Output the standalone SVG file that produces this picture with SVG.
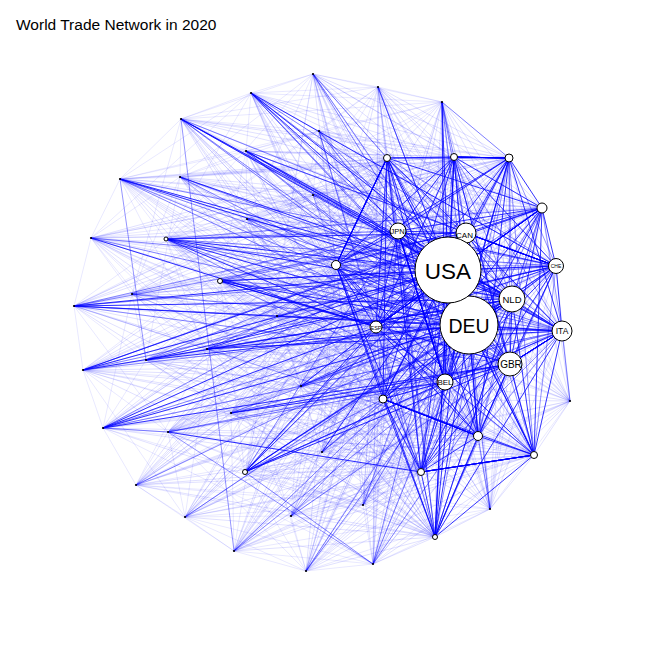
<svg xmlns="http://www.w3.org/2000/svg" width="645" height="645" viewBox="0 0 645 645">
<style>
.f{fill:none;stroke:#0000ff;stroke-opacity:0.12;stroke-width:1;stroke-linejoin:bevel}
.g{fill:none;stroke:#0000ff;stroke-opacity:0.09;stroke-width:1;stroke-linejoin:bevel}
.m{fill:none;stroke:#0000ff;stroke-opacity:0.42;stroke-width:1;stroke-linejoin:bevel}
.s{fill:none;stroke:#0000ff;stroke-opacity:0.8;stroke-width:1;stroke-linejoin:bevel}
.n circle{fill:#fff;stroke:#000;stroke-width:1}
.d circle{fill:#000}
text{font-family:"Liberation Sans",Arial,sans-serif;text-anchor:middle;fill:#000}
</style>
<rect width="645" height="645" fill="#fff"/>
<text x="16" y="29.5" style="text-anchor:start;font-size:15.5px">World Trade Network in 2020</text>
<g id="edges">
<g id="faint-fans">
<polyline class="f" points="448,270 245,472 469,325 512,299 245,472 510,364 562,331 245,472 556,266 466,233 245,472 398,231 445,382 245,472 376,327 542,208 245,472 509,158 454,157 245,472 387,158 336,265 245,472 383,399 478,436 245,472 534,455 421,472 245,472 435,537"/>
<polyline class="f" points="448,270 220,281 469,325 512,299 220,281 510,364 562,331 220,281 556,266 466,233 220,281 398,231 445,382 220,281 376,327 542,208 220,281 509,158 454,157 220,281 387,158 336,265 220,281 383,399 478,436 220,281 534,455 421,472 220,281 435,537"/>
<polyline class="f" points="448,270 166,239 469,325 512,299 166,239 510,364 562,331 166,239 556,266 466,233 166,239 398,231 445,382 166,239 376,327 542,208 166,239 509,158 454,157 166,239 387,158 336,265 166,239 383,399 478,436 166,239 534,455 421,472 166,239 435,537"/>
<polyline class="f" points="448,270 313,74 469,325 512,299 313,74 510,364 562,331 313,74 556,266 466,233 313,74 398,231 445,382 313,74 376,327 542,208 313,74 509,158 454,157 313,74 387,158 336,265 313,74 383,399 478,436 313,74 534,455 421,472 313,74 435,537"/>
<polyline class="f" points="448,270 378,87 469,325 512,299 378,87 510,364 562,331 378,87 556,266 466,233 378,87 398,231 445,382 378,87 376,327 542,208 378,87 509,158 454,157 378,87 387,158 336,265 378,87 383,399 478,436 378,87 534,455 421,472 378,87 435,537"/>
<polyline class="f" points="448,270 442,102 469,325 512,299 442,102 510,364 562,331 442,102 556,266 466,233 442,102 398,231 445,382 442,102 376,327 542,208 442,102 509,158 454,157 442,102 387,158 336,265 442,102 383,399 478,436 442,102 534,455 421,472 442,102 435,537"/>
<polyline class="f" points="448,270 251,93 469,325 512,299 251,93 510,364 562,331 251,93 556,266 466,233 251,93 398,231 445,382 251,93 376,327 542,208 251,93 509,158 454,157 251,93 387,158 336,265 251,93 383,399 478,436 251,93 534,455 421,472 251,93 435,537"/>
<polyline class="f" points="448,270 181,119 469,325 512,299 181,119 510,364 562,331 181,119 556,266 466,233 181,119 398,231 445,382 181,119 376,327 542,208 181,119 509,158 454,157 181,119 387,158 336,265 181,119 383,399 478,436 181,119 534,455 421,472 181,119 435,537"/>
<polyline class="f" points="448,270 319,131 469,325 512,299 319,131 510,364 562,331 319,131 556,266 466,233 319,131 398,231 445,382 319,131 376,327 542,208 319,131 509,158 454,157 319,131 387,158 336,265 319,131 383,399 478,436 319,131 534,455 421,472 319,131 435,537"/>
<polyline class="f" points="448,270 246,151 469,325 512,299 246,151 510,364 562,331 246,151 556,266 466,233 246,151 398,231 445,382 246,151 376,327 542,208 246,151 509,158 454,157 246,151 387,158 336,265 246,151 383,399 478,436 246,151 534,455 421,472 246,151 435,537"/>
<polyline class="f" points="448,270 120,179 469,325 512,299 120,179 510,364 562,331 120,179 556,266 466,233 120,179 398,231 445,382 120,179 376,327 542,208 120,179 509,158 454,157 120,179 387,158 336,265 120,179 383,399 478,436 120,179 534,455 421,472 120,179 435,537"/>
<polyline class="f" points="448,270 180,177 469,325 512,299 180,177 510,364 562,331 180,177 556,266 466,233 180,177 398,231 445,382 180,177 376,327 542,208 180,177 509,158 454,157 180,177 387,158 336,265 180,177 383,399 478,436 180,177 534,455 421,472 180,177 435,537"/>
<polyline class="f" points="448,270 313,195 469,325 512,299 313,195 510,364 562,331 313,195 556,266 466,233 313,195 398,231 445,382 313,195 376,327 542,208 313,195 509,158 454,157 313,195 387,158 336,265 313,195 383,399 478,436 313,195 534,455 421,472 313,195 435,537"/>
<polyline class="f" points="448,270 247,219 469,325 512,299 247,219 510,364 562,331 247,219 556,266 466,233 247,219 398,231 445,382 247,219 376,327 542,208 247,219 509,158 454,157 247,219 387,158 336,265 247,219 383,399 478,436 247,219 534,455 421,472 247,219 435,537"/>
<polyline class="f" points="448,270 91,238 469,325 512,299 91,238 510,364 562,331 91,238 556,266 466,233 91,238 398,231 445,382 91,238 376,327 542,208 91,238 509,158 454,157 91,238 387,158 336,265 91,238 383,399 478,436 91,238 534,455 421,472 91,238 435,537"/>
<polyline class="f" points="448,270 132,294 469,325 512,299 132,294 510,364 562,331 132,294 556,266 466,233 132,294 398,231 445,382 132,294 376,327 542,208 132,294 509,158 454,157 132,294 387,158 336,265 132,294 383,399 478,436 132,294 534,455 421,472 132,294 435,537"/>
<polyline class="f" points="448,270 74,306 469,325 512,299 74,306 510,364 562,331 74,306 556,266 466,233 74,306 398,231 445,382 74,306 376,327 542,208 74,306 509,158 454,157 74,306 387,158 336,265 74,306 383,399 478,436 74,306 534,455 421,472 74,306 435,537"/>
<polyline class="f" points="448,270 277,316 469,325 512,299 277,316 510,364 562,331 277,316 556,266 466,233 277,316 398,231 445,382 277,316 376,327 542,208 277,316 509,158 454,157 277,316 387,158 336,265 277,316 383,399 478,436 277,316 534,455 421,472 277,316 435,537"/>
<polyline class="f" points="448,270 207,349 469,325 512,299 207,349 510,364 562,331 207,349 556,266 466,233 207,349 398,231 445,382 207,349 376,327 542,208 207,349 509,158 454,157 207,349 387,158 336,265 207,349 383,399 478,436 207,349 534,455 421,472 207,349 435,537"/>
<polyline class="f" points="448,270 146,360 469,325 512,299 146,360 510,364 562,331 146,360 556,266 466,233 146,360 398,231 445,382 146,360 376,327 542,208 146,360 509,158 454,157 146,360 387,158 336,265 146,360 383,399 478,436 146,360 534,455 421,472 146,360 435,537"/>
<polyline class="f" points="448,270 83,370 469,325 512,299 83,370 510,364 562,331 83,370 556,266 466,233 83,370 398,231 445,382 83,370 376,327 542,208 83,370 509,158 454,157 83,370 387,158 336,265 83,370 383,399 478,436 83,370 534,455 421,472 83,370 435,537"/>
<polyline class="f" points="448,270 301,386 469,325 512,299 301,386 510,364 562,331 301,386 556,266 466,233 301,386 398,231 445,382 301,386 376,327 542,208 301,386 509,158 454,157 301,386 387,158 336,265 301,386 383,399 478,436 301,386 534,455 421,472 301,386 435,537"/>
<polyline class="f" points="448,270 231,413 469,325 512,299 231,413 510,364 562,331 231,413 556,266 466,233 231,413 398,231 445,382 231,413 376,327 542,208 231,413 509,158 454,157 231,413 387,158 336,265 231,413 383,399 478,436 231,413 534,455 421,472 231,413 435,537"/>
<polyline class="f" points="448,270 103,428 469,325 512,299 103,428 510,364 562,331 103,428 556,266 466,233 103,428 398,231 445,382 103,428 376,327 542,208 103,428 509,158 454,157 103,428 387,158 336,265 103,428 383,399 478,436 103,428 534,455 421,472 103,428 435,537"/>
<polyline class="f" points="448,270 168,432 469,325 512,299 168,432 510,364 562,331 168,432 556,266 466,233 168,432 398,231 445,382 168,432 376,327 542,208 168,432 509,158 454,157 168,432 387,158 336,265 168,432 383,399 478,436 168,432 534,455 421,472 168,432 435,537"/>
<polyline class="f" points="448,270 322,452 469,325 512,299 322,452 510,364 562,331 322,452 556,266 466,233 322,452 398,231 445,382 322,452 376,327 542,208 322,452 509,158 454,157 322,452 387,158 336,265 322,452 383,399 478,436 322,452 534,455 421,472 322,452 435,537"/>
<polyline class="f" points="448,270 136,485 469,325 512,299 136,485 510,364 562,331 136,485 556,266 466,233 136,485 398,231 445,382 136,485 376,327 542,208 136,485 509,158 454,157 136,485 387,158 336,265 136,485 383,399 478,436 136,485 534,455 421,472 136,485 435,537"/>
<polyline class="f" points="448,270 363,505 469,325 512,299 363,505 510,364 562,331 363,505 556,266 466,233 363,505 398,231 445,382 363,505 376,327 542,208 363,505 509,158 454,157 363,505 387,158 336,265 363,505 383,399 478,436 363,505 534,455 421,472 363,505 435,537"/>
<polyline class="f" points="448,270 185,517 469,325 512,299 185,517 510,364 562,331 185,517 556,266 466,233 185,517 398,231 445,382 185,517 376,327 542,208 185,517 509,158 454,157 185,517 387,158 336,265 185,517 383,399 478,436 185,517 534,455 421,472 185,517 435,537"/>
<polyline class="f" points="448,270 291,516 469,325 512,299 291,516 510,364 562,331 291,516 556,266 466,233 291,516 398,231 445,382 291,516 376,327 542,208 291,516 509,158 454,157 291,516 387,158 336,265 291,516 383,399 478,436 291,516 534,455 421,472 291,516 435,537"/>
<polyline class="f" points="448,270 234,551 469,325 512,299 234,551 510,364 562,331 234,551 556,266 466,233 234,551 398,231 445,382 234,551 376,327 542,208 234,551 509,158 454,157 234,551 387,158 336,265 234,551 383,399 478,436 234,551 534,455 421,472 234,551 435,537"/>
<polyline class="f" points="448,270 373,564 469,325 512,299 373,564 510,364 562,331 373,564 556,266 466,233 373,564 398,231 445,382 373,564 376,327 542,208 373,564 509,158 454,157 373,564 387,158 336,265 373,564 383,399 478,436 373,564 534,455 421,472 373,564 435,537"/>
<polyline class="f" points="448,270 306,571 469,325 512,299 306,571 510,364 562,331 306,571 556,266 466,233 306,571 398,231 445,382 306,571 376,327 542,208 306,571 509,158 454,157 306,571 387,158 336,265 306,571 383,399 478,436 306,571 534,455 421,472 306,571 435,537"/>
<polyline class="f" points="448,270 570,401 469,325 512,299 570,401 510,364 562,331 570,401 556,266 466,233 570,401 398,231 445,382 570,401 376,327 542,208 570,401 509,158 454,157 570,401 387,158 336,265 570,401 383,399 478,436 570,401 534,455 421,472 570,401 435,537"/>
<polyline class="f" points="448,270 490,509 469,325 512,299 490,509 510,364 562,331 490,509 556,266 466,233 490,509 398,231 445,382 490,509 376,327 542,208 490,509 509,158 454,157 490,509 387,158 336,265 490,509 383,399 478,436 490,509 534,455 421,472 490,509 435,537"/>
</g>
<g id="faint-outer">
<polygon class="g" points="245,472 220,281 166,239 313,74 378,87 442,102 251,93 181,119 319,131 246,151 120,179 180,177 313,195 247,219 91,238 132,294 74,306 277,316 207,349 146,360 83,370 301,386 231,413 103,428 168,432 322,452 136,485 363,505 185,517 291,516 234,551 373,564 306,571 570,401 490,509"/>
<polygon class="g" points="245,472 166,239 378,87 251,93 319,131 120,179 313,195 91,238 74,306 207,349 83,370 231,413 168,432 136,485 185,517 234,551 306,571 490,509 220,281 313,74 442,102 181,119 246,151 180,177 247,219 132,294 277,316 146,360 301,386 103,428 322,452 363,505 291,516 373,564 570,401"/>
<polygon class="g" points="245,472 313,74 251,93 246,151 313,195 132,294 207,349 301,386 168,432 363,505 234,551 570,401 220,281 378,87 181,119 120,179 247,219 74,306 146,360 231,413 322,452 185,517 373,564 490,509 166,239 442,102 319,131 180,177 91,238 277,316 83,370 103,428 136,485 291,516 306,571"/>
<polygon class="g" points="245,472 378,87 319,131 313,195 74,306 83,370 168,432 185,517 306,571 220,281 442,102 246,151 247,219 277,316 301,386 322,452 291,516 570,401 166,239 251,93 120,179 91,238 207,349 231,413 136,485 234,551 490,509 313,74 181,119 180,177 132,294 146,360 103,428 363,505 373,564"/>
<polygon class="g" points="245,472 319,131 74,306 168,432 306,571 442,102 247,219 301,386 291,516 166,239 120,179 207,349 136,485 490,509 181,119 132,294 103,428 373,564 378,87 313,195 83,370 185,517 220,281 246,151 277,316 322,452 570,401 251,93 91,238 231,413 234,551 313,74 180,177 146,360 363,505"/>
</g>
<g id="cluster-medium">
<polygon class="m" points="448,270 466,233 454,157 421,472 562,331 542,208 478,436 512,299 445,382 336,265"/>
<polygon class="m" points="469,325 398,231 387,158 435,537 556,266 509,158 534,455 510,364 376,327 383,399"/>
<polygon class="m" points="448,270 445,382 478,436 562,331 454,157"/>
<polygon class="m" points="469,325 376,327 534,455 556,266 387,158"/>
<polygon class="m" points="512,299 542,208 421,472 466,233 336,265"/>
<polygon class="m" points="510,364 509,158 435,537 398,231 383,399"/>
<polygon class="m" points="448,270 376,327 421,472 398,231 478,436 556,266 336,265 510,364 454,157 469,325 542,208 435,537 445,382 534,455 466,233 383,399 562,331 387,158 512,299 509,158"/>
<path class="m" d="M448 270 542 208M469 325 509 158M512 299 454 157M510 364 387 158M562 331 336 265M556 266 383 399M466 233 478 436M398 231 534 455M445 382 421 472M376 327 435 537"/>
</g>
<g id="outer-medium">
<path class="m" d="M245 472 398 231M245 472 556 266M245 472 383 399M245 472 373 564M245 472 512 299M245 472 562 331M245 472 466 233"/>
<path class="m" d="M220 281 466 233M220 281 398 231M220 281 445 382M220 281 512 299M220 281 562 331M220 281 556 266"/>
<path class="m" d="M166 239 445 382M166 239 542 208M166 239 510 364M166 239 562 331M166 239 556 266M166 239 398 231"/>
<path class="m" d="M313 74 387 158M313 74 448 270M313 74 469 325"/>
<path class="m" d="M378 87 448 270M378 87 469 325"/>
<path class="m" d="M442 102 469 325M442 102 454 157M442 102 509 158M442 102 466 233"/>
<path class="m" d="M251 93 398 231M251 93 510 364M251 93 469 325M251 93 466 233M251 93 562 331"/>
<path class="m" d="M181 119 469 325M181 119 466 233M181 119 510 364M181 119 562 331M181 119 234 551"/>
<path class="m" d="M319 131 448 270M319 131 469 325M319 131 376 327"/>
<path class="m" d="M246 151 510 364M246 151 556 266M246 151 466 233M246 151 562 331M246 151 469 325"/>
<path class="m" d="M120 179 469 325M120 179 562 331M120 179 510 364M120 179 146 360M120 179 556 266"/>
<path class="m" d="M180 177 512 299M180 177 469 325"/>
<path class="m" d="M313 195 448 270"/>
<path class="m" d="M247 219 448 270M247 219 469 325"/>
<path class="m" d="M91 238 448 270M91 238 469 325"/>
<path class="m" d="M132 294 469 325"/>
<path class="m" d="M74 306 510 364M74 306 466 233M74 306 398 231M74 306 469 325M74 306 556 266"/>
<path class="m" d="M277 316 448 270M277 316 469 325"/>
<path class="m" d="M207 349 512 299M207 349 556 266M207 349 466 233"/>
<path class="m" d="M146 360 448 270M146 360 512 299M146 360 466 233"/>
<path class="m" d="M83 370 469 325M83 370 556 266M83 370 466 233"/>
<path class="m" d="M301 386 469 325M301 386 556 266"/>
<path class="m" d="M231 413 469 325M231 413 562 331"/>
<path class="m" d="M103 428 168 432M103 428 512 299M103 428 562 331M103 428 466 233"/>
<path class="m" d="M168 432 373 564M168 432 445 382M168 432 510 364"/>
<path class="m" d="M322 452 469 325M322 452 512 299"/>
<path class="m" d="M136 485 469 325"/>
<path class="m" d="M363 505 469 325M363 505 448 270"/>
<path class="m" d="M185 517 469 325"/>
<path class="m" d="M291 516 469 325M291 516 510 364"/>
<path class="m" d="M234 551 469 325M234 551 445 382"/>
<path class="m" d="M373 564 469 325M373 564 448 270M373 564 510 364"/>
<path class="m" d="M306 571 445 382M306 571 469 325"/>
<path class="m" d="M570 401 562 331"/>
<path class="m" d="M490 509 478 436M490 509 469 325"/>
</g>
<g id="cluster-strong">
<polygon class="s" points="448,270 469,325 512,299 510,364 562,331 556,266 466,233 398,231 445,382 376,327 542,208 509,158 454,157 387,158 336,265 383,399 478,436 534,455 421,472 435,537"/>
<polygon class="s" points="448,270 512,299 562,331 466,233 445,382 542,208 454,157 336,265 478,436 421,472"/>
<polygon class="s" points="469,325 510,364 556,266 398,231 376,327 509,158 387,158 383,399 534,455 435,537"/>
<polygon class="s" points="448,270 510,364 466,233 376,327 454,157 383,399 421,472 469,325 562,331 398,231 542,208 387,158 478,436 435,537 512,299 556,266 445,382 509,158 336,265 534,455"/>
<polygon class="s" points="448,270 562,331 445,382 454,157 478,436"/>
<polygon class="s" points="469,325 556,266 376,327 387,158 534,455"/>
<polygon class="s" points="512,299 466,233 542,208 336,265 421,472"/>
<polygon class="s" points="510,364 398,231 509,158 383,399 435,537"/>
<polygon class="s" points="448,270 556,266 542,208 383,399"/>
<polygon class="s" points="469,325 466,233 509,158 478,436"/>
<polygon class="s" points="512,299 398,231 454,157 534,455"/>
<polygon class="s" points="510,364 445,382 387,158 421,472"/>
<polygon class="s" points="562,331 376,327 336,265 435,537"/>
<polygon class="s" points="448,270 398,231 336,265 469,325 445,382 383,399 512,299 376,327 478,436 510,364 542,208 534,455 562,331 509,158 421,472 556,266 454,157 435,537 466,233 387,158"/>
</g>
<g id="outer-strong">
<path class="s" d="M245 472 448 270M245 472 469 325M245 472 510 364M245 472 445 382M245 472 376 327"/>
<path class="s" d="M220 281 448 270M220 281 469 325M220 281 510 364M220 281 376 327"/>
<path class="s" d="M166 239 448 270M166 239 469 325M166 239 512 299M166 239 466 233M166 239 376 327"/>
<path class="s" d="M442 102 448 270M442 102 445 382"/>
<path class="s" d="M251 93 448 270M251 93 512 299M251 93 556 266"/>
<path class="s" d="M181 119 448 270M181 119 512 299"/>
<path class="s" d="M246 151 448 270M246 151 512 299"/>
<path class="s" d="M120 179 448 270M120 179 512 299"/>
<path class="s" d="M180 177 448 270"/>
<path class="s" d="M91 238 376 327"/>
<path class="s" d="M74 306 448 270M74 306 512 299M74 306 562 331"/>
<path class="s" d="M207 349 448 270M207 349 469 325M207 349 562 331"/>
<path class="s" d="M146 360 469 325M146 360 556 266"/>
<path class="s" d="M83 370 448 270M83 370 512 299M83 370 542 208"/>
<path class="s" d="M301 386 448 270M301 386 512 299"/>
<path class="s" d="M231 413 510 364M231 413 445 382"/>
<path class="s" d="M103 428 448 270M103 428 469 325M103 428 510 364M103 428 376 327"/>
<path class="s" d="M168 432 421 472"/>
<path class="s" d="M322 452 448 270"/>
</g>
</g>
<g id="nodes">
<g class="d">
<circle id="n24" cx="313" cy="74" r="1.1"/><circle id="n25" cx="378" cy="87" r="1.1"/><circle id="n26" cx="442" cy="102" r="1.1"/>
<circle id="n27" cx="251" cy="93" r="1.1"/><circle id="n28" cx="181" cy="119" r="1.1"/><circle id="n29" cx="319" cy="131" r="1.1"/>
<circle id="n30" cx="246" cy="151" r="1.1"/><circle id="n31" cx="120" cy="179" r="1.1"/><circle id="n32" cx="180" cy="177" r="1.1"/>
<circle id="n33" cx="313" cy="195" r="1.1"/><circle id="n34" cx="247" cy="219" r="1.1"/><circle id="n35" cx="91" cy="238" r="1.1"/>
<circle id="n36" cx="132" cy="294" r="1.1"/><circle id="n37" cx="74" cy="306" r="1.1"/><circle id="n38" cx="277" cy="316" r="1.1"/>
<circle id="n39" cx="207" cy="349" r="1.1"/><circle id="n40" cx="146" cy="360" r="1.1"/><circle id="n41" cx="83" cy="370" r="1.1"/>
<circle id="n42" cx="301" cy="386" r="1.1"/><circle id="n43" cx="231" cy="413" r="1.1"/><circle id="n44" cx="103" cy="428" r="1.1"/>
<circle id="n45" cx="168" cy="432" r="1.1"/><circle id="n46" cx="322" cy="452" r="1.1"/><circle id="n47" cx="136" cy="485" r="1.1"/>
<circle id="n48" cx="363" cy="505" r="1.1"/><circle id="n49" cx="185" cy="517" r="1.1"/><circle id="n50" cx="291" cy="516" r="1.1"/>
<circle id="n51" cx="234" cy="551" r="1.1"/><circle id="n52" cx="373" cy="564" r="1.1"/><circle id="n53" cx="306" cy="571" r="1.1"/>
<circle id="n54" cx="570" cy="401" r="1.1"/><circle id="n55" cx="490" cy="509" r="1.1"/>
</g>
<g class="n">
<g id="n21"><circle cx="245" cy="472" r="2.5"/></g>
<g id="n22"><circle cx="220" cy="281" r="2.5"/></g>
<g id="n23"><circle cx="166" cy="239" r="2"/></g>
<g id="n11"><circle cx="542" cy="208" r="5"/></g>
<g id="n12"><circle cx="509" cy="158" r="4"/></g>
<g id="n13"><circle cx="454" cy="157" r="3.5"/></g>
<g id="n14"><circle cx="387" cy="158" r="3.5"/></g>
<g id="n15"><circle cx="336" cy="265" r="4.5"/></g>
<g id="n16"><circle cx="383" cy="399" r="4"/></g>
<g id="n17"><circle cx="478" cy="436" r="4.5"/></g>
<g id="n18"><circle cx="534" cy="455" r="3.5"/></g>
<g id="n19"><circle cx="421" cy="472" r="3.5"/></g>
<g id="n20"><circle cx="435" cy="537" r="2.5"/></g>
<g id="ESP"><circle cx="376" cy="327" r="6"/><text x="376" y="329.5" font-size="5.5">ESP</text></g>
<g id="BEL"><circle cx="445" cy="382" r="8"/><text x="445" y="384.8" font-size="8">BEL</text></g>
<g id="JPN"><circle cx="398" cy="231" r="8"/><text x="397.5" y="233.7" font-size="7.5">JPN</text></g>
<g id="CAN"><circle cx="466" cy="233" r="10"/><text x="464.5" y="237.6" font-size="8">CAN</text></g>
<g id="CHE"><circle cx="556" cy="266" r="7.5"/><text x="556" y="268.4" font-size="5">CHE</text></g>
<g id="ITA"><circle cx="562" cy="331" r="10"/><text x="562" y="334.4" font-size="8.5">ITA</text></g>
<g id="GBR"><circle cx="510" cy="364" r="12"/><text x="511" y="368.3" font-size="10">GBR</text></g>
<g id="NLD"><circle cx="512" cy="299" r="13"/><text x="512" y="302.7" font-size="9.5">NLD</text></g>
<g id="DEU"><circle cx="469" cy="325" r="29"/><text x="469" y="332.6" font-size="19.5">DEU</text></g>
<g id="USA"><circle cx="448" cy="270" r="33"/><text x="448" y="279.2" font-size="22.5">USA</text></g>
</g>
</g>
</svg>
